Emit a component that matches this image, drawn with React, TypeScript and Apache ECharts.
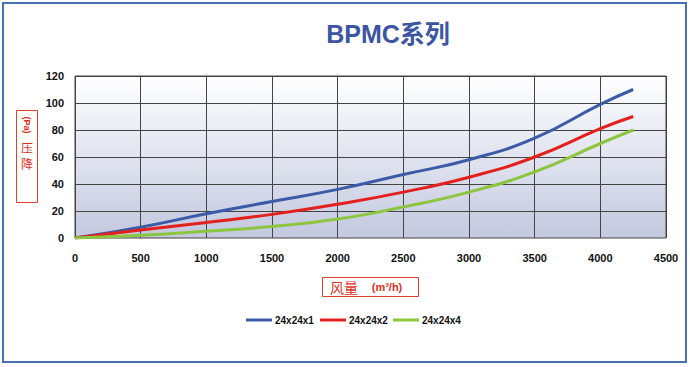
import React, { useEffect, useRef } from "react";
import * as echarts from "echarts";

const seriesNames = ["24x24x1", "24x24x2", "24x24x4"];
const flowX = [0, 500, 1000, 1500, 2000, 2500, 3000, 3500, 4000, 4250];
const s1 = [0, 8, 18, 27, 36, 47, 58, 74, 99, 110];
const s2 = [0, 6, 11.5, 17.5, 25, 34, 45, 60, 81, 90];
const s3 = [0, 2, 5, 8.5, 14, 23, 34, 49, 70, 80];
const colors = ["#3b5ba8", "#e3201c", "#8cc63f"];
const legendLefts = [246, 320, 393];

const NARROW = "'Liberation Sans Narrow', 'Liberation Sans', Arial, 'Noto Sans CJK SC', sans-serif";
const CJK = "'Noto Sans CJK SC', sans-serif";

export default function App() {
  const ref = useRef<HTMLDivElement>(null);
  useEffect(() => {
    const chart = echarts.init(ref.current!, null, { renderer: "svg" });
    const vals = [s1, s2, s3];
    chart.setOption({
      animation: false,
      backgroundColor: "#ffffff",
      title: {
        text: "BPMC系列",
        left: 383,
        top: 16,
        textAlign: "center",
        textStyle: { color: "#3b55a3", fontSize: 25, fontWeight: "bold", fontFamily: NARROW },
      },
      grid: {
        left: 75,
        right: 24,
        top: 76,
        bottom: 129,
        show: true,
        borderColor: "#444",
        borderWidth: 1,
        backgroundColor: {
          type: "linear",
          x: 0, y: 0, x2: 0, y2: 1,
          colorStops: [
            { offset: 0, color: "#ffffff" },
            { offset: 1, color: "#c3c8df" },
          ],
        },
      },
      legend: seriesNames.map((name, i) => ({
        left: legendLefts[i],
        top: 315,
        padding: 0,
        icon: "rect",
        itemWidth: 26,
        itemHeight: 3,
        data: [name],
        textStyle: { color: "#111", fontSize: 10, fontFamily: NARROW, fontWeight: "bold", padding: [0, 0, 0, -2] },
      })),
      xAxis: {
        type: "value",
        min: 0,
        max: 4500,
        interval: 500,
        axisLine: { show: false },
        axisTick: { show: false },
        splitLine: { show: true, lineStyle: { color: "#444", width: 1 } },
        axisLabel: {
          color: "#111",
          fontSize: 11,
          fontWeight: "bold",
          fontFamily: NARROW,
          margin: 14,
          formatter: (v: number) => String(v),
        },
      },
      yAxis: {
        type: "value",
        min: 0,
        max: 120,
        interval: 20,
        axisLine: { show: false },
        axisTick: { show: false },
        splitLine: {
          show: true,
          lineStyle: { color: ["transparent", "#444", "#444", "#444", "#444", "#444", "#444"], width: 1 },
        },
        axisLabel: {
          color: "#111",
          fontSize: 11,
          fontWeight: "bold",
          fontFamily: NARROW,
          margin: 11,
          formatter: (v: number) => String(v),
        },
      },
      series: seriesNames.map((name, i) => ({
        name,
        type: "line",
        smooth: true,
        showSymbol: false,
        symbol: "none",
        color: colors[i],
        lineStyle: { color: colors[i], width: 3 },
        data: flowX.map((x, j) => [x, vals[i][j]]),
      })),
      graphic: [
        {
          type: "rect",
          shape: { x: 3, y: 3, width: 683, height: 359 },
          style: { fill: "none", stroke: "#4a6fb5", lineWidth: 2 },
          silent: true,
        },
        {
          type: "rect",
          shape: { x: 16.5, y: 110.5, width: 21, height: 92 },
          style: { fill: "#fff", stroke: "#e0402a", lineWidth: 1 },
        },
        {
          type: "text",
          x: 27,
          y: 125,
          rotation: -Math.PI / 2,
          style: {
            text: "(Pa)",
            fill: "#e0301e",
            fontSize: 9,
            lineHeight: 10,
            fontWeight: "bold",
            fontFamily: NARROW,
            align: "center",
            verticalAlign: "middle",
          },
        },
        {
          type: "text",
          x: 27,
          y: 147,
          style: {
            text: "压",
            fill: "#e0301e",
            fontSize: 12,
            lineHeight: 13,
            fontFamily: CJK,
            align: "center",
            verticalAlign: "middle",
          },
        },
        {
          type: "text",
          x: 27,
          y: 163,
          style: {
            text: "降",
            fill: "#e0301e",
            fontSize: 12,
            lineHeight: 13,
            fontFamily: CJK,
            align: "center",
            verticalAlign: "middle",
          },
        },
        {
          type: "rect",
          shape: { x: 322.5, y: 277.5, width: 96, height: 19 },
          style: { fill: "#fff", stroke: "#e0402a", lineWidth: 1 },
        },
        {
          type: "text",
          x: 344,
          y: 287,
          style: {
            text: "风量",
            fill: "#e0301e",
            fontSize: 14,
            fontFamily: CJK,
            align: "center",
            verticalAlign: "middle",
          },
        },
        {
          type: "text",
          x: 387,
          y: 287,
          style: {
            text: "(m³/h)",
            fill: "#e0301e",
            fontSize: 11,
            fontWeight: "bold",
            fontFamily: NARROW,
            align: "center",
            verticalAlign: "middle",
          },
        },
      ],
    });
    return () => chart.dispose();
  }, []);
  return (
    <div
      ref={ref}
      style={{ position: "fixed", left: 0, top: 0, width: 690, height: 367 }}
    />
  );
}
